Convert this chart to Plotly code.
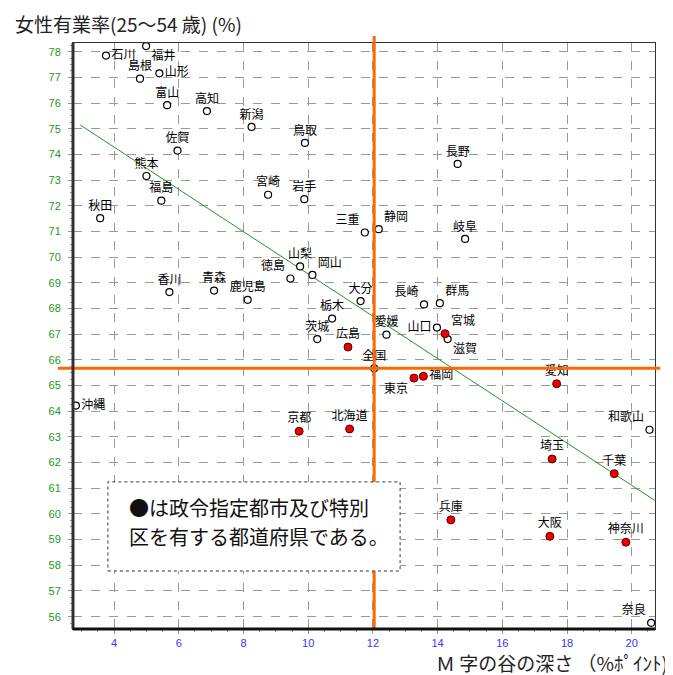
import plotly.graph_objects as go

# ---- data ----
prefs = ["石川", "福井", "島根", "山形", "富山", "高知", "新潟", "鳥取", "佐賀", "熊本",
         "福島", "宮崎", "岩手", "秋田", "長野", "三重", "静岡", "岐阜", "大分", "長崎",
         "群馬", "山口", "宮城", "滋賀", "愛媛", "広島", "東京", "福岡", "愛知", "北海道",
         "和歌山", "山梨", "徳島", "岡山", "香川", "青森", "鹿児島", "栃木", "茨城", "沖縄",
         "京都", "埼玉", "千葉", "兵庫", "大阪", "神奈川", "奈良"]
m_depth = [3.75, 4.99, 4.80, 5.40, 5.64, 6.87, 8.25, 9.90, 5.96, 5.00,
           5.46, 8.76, 9.88, 3.57, 14.62, 11.75, 12.18, 14.85, 11.62, 13.58,
           14.07, 13.98, 14.23, 14.31, 12.42, 11.23, 13.27, 13.56, 17.68, 11.28,
           20.55, 9.75, 9.45, 10.13, 5.71, 7.09, 8.13, 10.74, 10.28, 2.82,
           9.72, 17.54, 19.46, 14.41, 17.47, 19.82, 20.60]
emp_rate = [77.85, 78.22, 76.95, 77.16, 75.92, 75.69, 75.07, 74.45, 74.15, 73.16,
            72.20, 72.43, 72.26, 71.52, 73.63, 70.96, 71.09, 70.71, 68.29, 68.16,
            68.21, 67.26, 67.02, 66.81, 66.98, 66.50, 65.29, 65.36, 65.07, 63.31,
            63.28, 69.64, 69.17, 69.31, 68.64, 68.70, 68.34, 67.61, 66.81, 64.22,
            63.22, 62.14, 61.57, 59.77, 59.13, 58.90, 55.76]
designated = ["宮城", "広島", "東京", "福岡", "愛知", "北海道", "京都",
              "埼玉", "千葉", "兵庫", "大阪", "神奈川"]

national_name = "全国"
national_x = 12.04
national_y = 65.67

trend_x = [2.95, 20.71]
trend_y = [75.15, 60.53]

x_ticks = [4, 6, 8, 10, 12, 14, 16, 18, 20]
y_ticks = list(range(56, 79))

title_y = "女性有業率(25～54 歳) (%)"
title_x = "Ｍ 字の谷の深さ （%ﾎﾟｲﾝﾄ)"
note_lines = ["●は政令指定都市及び特別", "区を有する都道府県である。"]

# ---- label placement (style) ----
label_pos = {
    "石川": "middle right", "福井": "bottom right", "山形": "middle right",
    "三重": "top left", "静岡": "top right", "山口": "middle left",
    "宮城": "top right", "滋賀": "bottom right", "東京": "bottom left",
    "福岡": "middle right", "和歌山": "top left", "徳島": "top left",
    "岡山": "top right", "沖縄": "middle right", "奈良": "top left",
    "長崎": "top left", "群馬": "top right",
}

FONT = "Noto Sans CJK JP"
ORANGE = "#ff6a00"

open_idx = [i for i, p in enumerate(prefs) if p not in designated]
red_idx = [i for i, p in enumerate(prefs) if p in designated]

fig = go.Figure()

fig.add_trace(go.Scatter(
    x=trend_x, y=trend_y, mode="lines",
    line=dict(color="#1a9a1a", width=1), hoverinfo="skip", showlegend=False))

fig.add_trace(go.Scatter(
    x=[m_depth[i] for i in open_idx] + [national_x],
    y=[emp_rate[i] for i in open_idx] + [national_y],
    text=[prefs[i] for i in open_idx] + [national_name],
    textposition=[label_pos.get(prefs[i], "top center") for i in open_idx] + ["top center"],
    mode="markers+text",
    marker=dict(symbol="circle", size=7, color="white",
                line=dict(color="black", width=1.2)),
    textfont=dict(family=FONT, size=12, color="black"),
    cliponaxis=False, showlegend=False))

fig.add_trace(go.Scatter(
    x=[m_depth[i] for i in red_idx],
    y=[emp_rate[i] for i in red_idx],
    text=[prefs[i] for i in red_idx],
    textposition=[label_pos.get(prefs[i], "top center") for i in red_idx],
    mode="markers+text",
    marker=dict(symbol="circle", size=8, color="#ee0000",
                line=dict(color="#550000", width=1)),
    textfont=dict(family=FONT, size=12, color="black"),
    cliponaxis=False, showlegend=False))

shapes = [
    # national average cross lines
    dict(type="line", xref="x", yref="paper", x0=national_x, x1=national_x,
         y0=0, y1=1.012, line=dict(color=ORANGE, width=3), layer="above"),
    dict(type="line", xref="paper", yref="y", x0=-0.026, x1=1.009,
         y0=national_y, y1=national_y, line=dict(color=ORANGE, width=3), layer="above"),
    # thick left/bottom axis lines
    dict(type="line", xref="paper", yref="paper", x0=0, x1=0, y0=0, y1=1,
         line=dict(color="#333333", width=3), layer="above"),
    dict(type="line", xref="paper", yref="paper", x0=0, x1=1, y0=0, y1=0,
         line=dict(color="#111111", width=3), layer="above"),
    # note box
    dict(type="rect", xref="paper", yref="paper", x0=0.060, x1=0.562,
         y0=0.099, y1=0.251, fillcolor="white",
         line=dict(color="#333333", width=1, dash="dot"), layer="above"),
]

annotations = [
    dict(text=title_y, xref="paper", yref="paper", x=-0.103, y=1.033,
         xanchor="left", yanchor="middle", showarrow=False,
         font=dict(family=FONT, size=19, color="#222222")),
    dict(text=title_x, xref="paper", yref="paper", x=1.026, y=-0.058,
         xanchor="right", yanchor="middle", showarrow=False,
         font=dict(family=FONT, size=19, color="#222222")),
    dict(text=note_lines[0], xref="paper", yref="paper", x=0.092, y=0.207,
         xanchor="left", yanchor="middle", showarrow=False,
         font=dict(family=FONT, size=20, color="#111111")),
    dict(text=note_lines[1], xref="paper", yref="paper", x=0.092, y=0.157,
         xanchor="left", yanchor="middle", showarrow=False,
         font=dict(family=FONT, size=20, color="#111111")),
]

# the page body has an 8px default margin, so the figure is sized to fit the window
fig.update_layout(
    width=665, height=667,
    margin=dict(l=65, r=18, t=35, b=46),
    paper_bgcolor="white", plot_bgcolor="white",
    shapes=shapes, annotations=annotations,
    showlegend=False,
)

fig.update_xaxes(
    range=[2.73, 20.72], tickvals=x_ticks, ticktext=[str(v) for v in x_ticks],
    showgrid=True, gridcolor="#999999", griddash="dash", gridwidth=1,
    showline=True, linecolor="#333333", linewidth=1, mirror=True,
    zeroline=False, ticks="outside", ticklen=4, tickcolor="#999999",
    tickfont=dict(family="Liberation Sans", size=11, color="#3333ff"),
    minor=dict(dtick=0.5, ticks="outside", ticklen=2, tickcolor="#999999", showgrid=False),
)
fig.update_yaxes(
    range=[55.52, 78.34], tickvals=y_ticks, ticktext=[str(v) for v in y_ticks],
    showgrid=True, gridcolor="#999999", griddash="dash", gridwidth=1,
    showline=True, linecolor="#333333", linewidth=1, mirror=True,
    zeroline=False, ticks="outside", ticklen=4, tickcolor="#999999",
    ticklabelstandoff=5,
    tickfont=dict(family="Liberation Sans", size=11, color="#229922"),
    minor=dict(dtick=0.25, ticks="outside", ticklen=2, tickcolor="#999999", showgrid=False),
)

fig.write_html("out.html")
